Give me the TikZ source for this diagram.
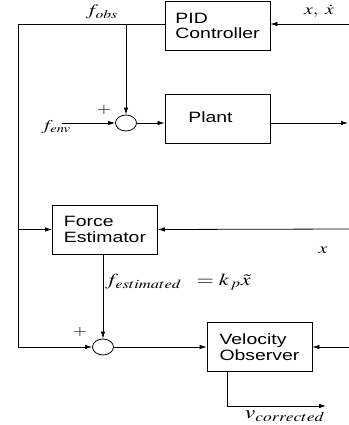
\documentclass[tikz,border=0pt]{standalone}
\usepackage{mathptmx}
\usepackage[no-math]{fontspec}
\setmainfont{Liberation Sans}
\newfontfamily\blockfont[FakeStretch=1.3]{Liberation Sans}
\usepackage{graphicx}
\usepackage{tikz}
\usetikzlibrary{arrows.meta,shapes.geometric,positioning}

% wide math labels
\newcommand{\wlab}[2]{{\fontsize{#1}{#1}\selectfont\scalebox{1.32}[1]{$#2$}}}

\begin{document}
\begin{tikzpicture}[x=1bp, y=-1bp, line width=0.8bp,
    every node/.style={font=\blockfont\fontsize{15}{15.5}\selectfont},
    block/.style={draw, minimum width=105bp, minimum height=49bp, align=left, inner sep=0pt},
    sumpt/.style={draw, ellipse, minimum width=21bp, minimum height=16bp, inner sep=0pt},
    sig/.style={-{Latex[length=7bp,width=4.5bp]}}]
  \useasboundingbox (0,0) rectangle (349,425);

  % Define blocks
  \node[block] (pid)   at (217.5,26)  {PID\\Controller};
  \node[block] (plant) at (217.5,118.5) {\raisebox{2bp}{Plant}\hspace*{14bp}};
  \node[block] (est)   at (105,229.5) {Force\\Estimator};
  \node[block] (obs)   at (259.5,347) {Velocity\\Observer};

  % Summing junctions
  \node[sumpt] (sumA) at (126,123) {};
  \node[sumpt] (sumB) at (103,347) {};

  % Define coordinates
  \coordinate (left)   at (18,24);   % feedback corner
  \coordinate (tap)    at (126,24);  % branch to first sum
  \coordinate (envin)  at (62,123);  % f_env input
  \coordinate (yout)   at (348,123); % plant output
  \coordinate (xinA)   at (349,24);  % x, xdot input
  \coordinate (xinB)   at (349,229); % x input
  \coordinate (xinC)   at (349,347); % observer input
  \coordinate (vend)   at (326,406); % corrected velocity

  % Top loop
  \draw (pid.west |- left) -- (left) -- (left |- sumB);
  \draw[sig] (tap) -- (sumA.north);
  \draw[sig] (xinA) -- (pid.east |- xinA);

  % Plant path
  \draw[sig] (envin) -- (sumA.west);
  \draw[sig] (sumA.east) -- (plant.west |- sumA);
  \draw[sig] (plant.east |- yout) -- (yout);

  % Estimator
  \draw[sig] (left |- est.west) -- (est.west);
  \draw[sig] (xinB) -- (est.east);
  \draw[sig] (sumB |- est.south) -- (sumB.north);

  % Observer
  \draw[sig] (left |- sumB) -- (sumB.west);
  \draw[sig] (sumB.east) -- (obs.west);
  \draw[sig] (xinC) -- (obs.east);
  \draw[sig] ([xshift=-32.5bp]obs.south) |- (vend);

  % Labels
  \node (lobs) at (102,12)  {\wlab{16}{f_{obs}}};
  \node (lx)   at (319,11)  {\wlab{15}{x,\;\dot{x}}};
  \node (lenv) at (56,127)  {\wlab{15}{f_{env}}};
  \node (pA)   at (104,110) {\wlab{14}{+}};
  \node (pB)   at (80,332)  {\wlab{14}{+}};
  \node (lxb)  at (323,250) {\wlab{15}{x}};
  \node (lest) at (178,282) {\wlab{17}{f_{estimated}\;\;=k_{\,p}\tilde{x}}};
  \node (lvc)  at (285,416) {\wlab{18}{v_{corrected}}};
\end{tikzpicture}
\end{document}
